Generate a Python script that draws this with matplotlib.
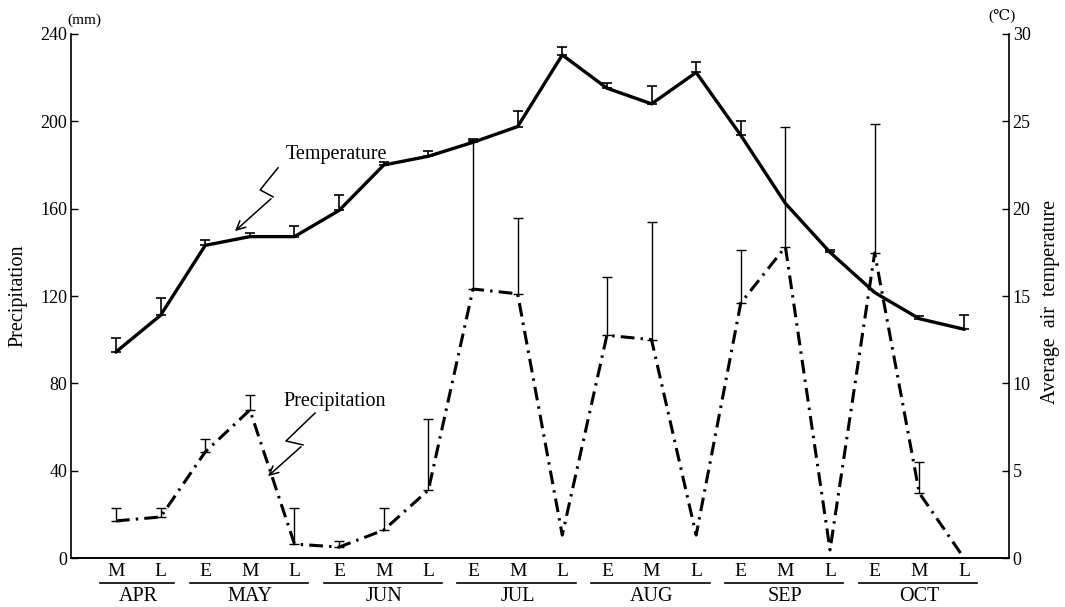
import numpy as np
import matplotlib.pyplot as plt
from matplotlib.transforms import blended_transform_factory

plt.rcParams['font.family'] = ['Liberation Serif', 'DejaVu Serif']

# ten-day periods (E = early, M = middle, L = late)
periods = ['M', 'L',
           'E', 'M', 'L',
           'E', 'M', 'L',
           'E', 'M', 'L',
           'E', 'M', 'L',
           'E', 'M', 'L',
           'E', 'M', 'L']
months = ['APR', 'MAY', 'JUN', 'JUL', 'AUG', 'SEP', 'OCT']
month_len = [2, 3, 3, 3, 3, 3, 3]

# average air temperature (C) and upper error
temp = [11.8, 13.9, 17.9, 18.4, 18.4, 19.9, 22.5, 23.0, 23.8, 24.7,
        28.8, 26.9, 26.0, 27.8, 24.2, 20.3, 17.5, 15.2, 13.7, 13.1]
temp_err = [0.8, 1.0, 0.3, 0.2, 0.6, 0.9, 0.2, 0.3, 0.2, 0.9,
            0.45, 0.3, 1.0, 0.6, 0.8, 0.0, 0.15, 0.0, 0.15, 0.8]

# precipitation (mm) and upper error
precip = [17.0, 18.8, 48.6, 67.8, 6.4, 5.0, 12.8, 31.1, 123.2, 121.0,
          10.5, 102.0, 100.0, 10.5, 116.8, 142.5, 3.7, 139.7, 29.8, 0.0]
precip_err = [6.0, 4.2, 5.9, 6.9, 16.6, 2.8, 10.2, 32.6, 68.3, 34.7,
              0.0, 26.7, 54.0, 0.0, 24.2, 54.9, 0.0, 59.3, 14.2, 0.0]

x = np.arange(len(periods))
temp = np.array(temp)
temp_err = np.array(temp_err)
precip = np.array(precip)
precip_err = np.array(precip_err)

fig = plt.figure(figsize=(10.65, 6.07), dpi=100)
ax = fig.add_axes([0.067, 0.0807, 0.880, 0.8633])
ax2 = ax.twinx()

# precipitation, dash-dot
ax.plot(x, precip, color='black', lw=2.2, dashes=(4.5, 2.0, 0.8, 2.0))
m = precip_err > 0
ax.errorbar(x[m], precip[m], yerr=[np.zeros(m.sum()), precip_err[m]], fmt='none',
            ecolor='black', elinewidth=1.0, capsize=3.5, capthick=1.0)

# temperature, solid
ax2.plot(x, temp, color='black', lw=2.4)
m = temp_err > 0
ax2.errorbar(x[m], temp[m], yerr=[np.zeros(m.sum()), temp_err[m]], fmt='none',
             ecolor='black', elinewidth=1.2, capsize=3.5, capthick=1.2)

ax.set_xlim(-1, 20)
ax.set_ylim(0, 240)
ax2.set_ylim(0, 30)
ax.set_yticks(np.arange(0, 241, 40))
ax2.set_yticks(np.arange(0, 31, 5))
ax.set_xticks([])

for a in (ax, ax2):
    a.spines['top'].set_visible(False)
    a.tick_params(axis='y', direction='in', length=5, width=1, labelsize=13, pad=3)
ax.spines['right'].set_visible(False)
ax.spines['left'].set_linewidth(1.2)
ax2.spines['right'].set_linewidth(1.2)
ax.spines['bottom'].set_linewidth(1.4)
ax2.spines['left'].set_visible(False)
ax2.spines['bottom'].set_visible(False)

# period and month labels under the axis
tr = blended_transform_factory(ax.transData, ax.transAxes)
for i, p in enumerate(periods):
    ax.text(i, -0.026, p, transform=tr, ha='center', va='center', fontsize=14)
start = 0
for name, n in zip(months, month_len):
    end = start + n - 1
    ax.plot([start - 0.35, end + 0.3], [-0.047, -0.047], transform=tr,
            color='black', lw=1.2, clip_on=False)
    ax.text((start + end) / 2, -0.073, name, transform=tr, ha='center', va='center',
            fontsize=14.5)
    start += n

# zigzag pointers
ax.plot([3.63, 3.23, 3.52], [178.7, 168.6, 165.4], color='black', lw=1.1)
ax.annotate('', xy=(2.62, 148.9), xytext=(3.52, 165.4),
            arrowprops=dict(arrowstyle='->', lw=1.1, color='black', mutation_scale=16))
ax.text(4.95, 184.6, 'Temperature', ha='center', va='center', fontsize=14.5)

ax.plot([4.46, 3.81, 4.19], [66.4, 53.6, 51.8], color='black', lw=1.1)
ax.annotate('', xy=(3.36, 36.6), xytext=(4.19, 51.8),
            arrowprops=dict(arrowstyle='->', lw=1.1, color='black', mutation_scale=16))
ax.text(4.91, 71.5, 'Precipitation', ha='center', va='center', fontsize=14.5)

# axis titles and units
fig.text(18 / 1065, 1 - 296 / 607, 'Precipitation', rotation=90,
         ha='center', va='center', fontsize=14.5)
fig.text(1050 / 1065, 1 - 302 / 607, 'Average  air  temperature', rotation=90,
         ha='center', va='center', fontsize=14.5)
fig.text(84 / 1065, 1 - 20 / 607, '(mm)', ha='center', va='center', fontsize=11)
fig.text(1002 / 1065, 1 - 16 / 607, '(℃)', ha='center', va='center', fontsize=11)

fig.savefig('out.png', dpi=100, facecolor='white')
